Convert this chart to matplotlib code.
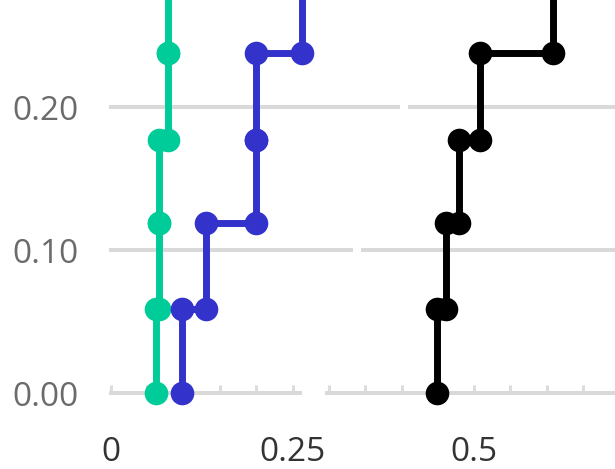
import numpy as np
import matplotlib
matplotlib.use("Agg")
import matplotlib.pyplot as plt

# Cumulative step levels shared by all series
levels = [0.0, 0.059, 0.119, 0.177, 0.238, 0.294]

# Sorted sample values for each series
green_vals = [0.062, 0.066, 0.066, 0.078, 0.078]
blue_vals = [0.098, 0.130, 0.200, 0.200, 0.263]
black_vals = [0.449, 0.461, 0.479, 0.508, 0.609]

series = [
    (green_vals, "#00cc99"),
    (blue_vals, "#3333cc"),
    (black_vals, "#000000"),
]

x_ticks = [0.0, 0.05, 0.10, 0.15, 0.20, 0.25, 0.30, 0.35, 0.40, 0.45, 0.50, 0.55, 0.60, 0.65]
x_tick_labels = {0.0: "0", 0.25: "0.25", 0.5: "0.5"}
y_ticks = [0.0, 0.10, 0.20]
y_tick_labels = ["0.00", "0.10", "0.20"]

# horizontal rules: (y, [(x_start, x_end), ...])
rules = [
    (0.00, [(-0.003, 0.263), (0.295, 0.70)]),
    (0.10, [(-0.003, 0.333), (0.344, 0.70)]),
    (0.20, [(-0.003, 0.398), (0.409, 0.70)]),
]


def step_path(vals, lv):
    xs = [vals[0]]
    ys = [lv[0]]
    for k in range(1, len(vals) + 1):
        xs.append(vals[k - 1])
        ys.append(lv[k])
        if k < len(vals):
            xs.append(vals[k])
            ys.append(lv[k])
    return xs, ys


plt.rcParams["font.family"] = ["Open Sans", "DejaVu Sans"]

fig = plt.figure(figsize=(6.15, 4.69), dpi=100)
ax = fig.add_axes([109 / 615, 76 / 469, 1 - 109 / 615, 393 / 469])
ax.set_xlim(-0.003, 0.694)
ax.set_ylim(0, 0.2752)

rule_color = "#d9d9d9"
for y, segs in rules:
    for x0, x1 in segs:
        ax.plot([x0, x1], [y, y], color=rule_color, lw=2.9,
                solid_capstyle="butt", clip_on=False, zorder=1)

for vals, color in series:
    xs, ys = step_path(vals, levels)
    ax.plot(xs, ys, color=color, lw=5.0, marker="o", markersize=17,
            markeredgewidth=0, solid_joinstyle="miter",
            clip_on=False, zorder=3)

for s in ax.spines.values():
    s.set_visible(False)

ax.set_xticks(x_ticks)
ax.set_xticklabels([x_tick_labels.get(round(t, 2), "") for t in x_ticks])
ax.tick_params(axis="x", direction="in", length=5.8, width=2.2,
               color="#dcdcdc", pad=31, labelsize=24, labelcolor="#333333")

ax.set_yticks(y_ticks)
ax.set_yticklabels(y_tick_labels)
ax.tick_params(axis="y", length=0, pad=22, labelsize=24, labelcolor="#6b6b6b")

fig.savefig("out.png", dpi=100)
